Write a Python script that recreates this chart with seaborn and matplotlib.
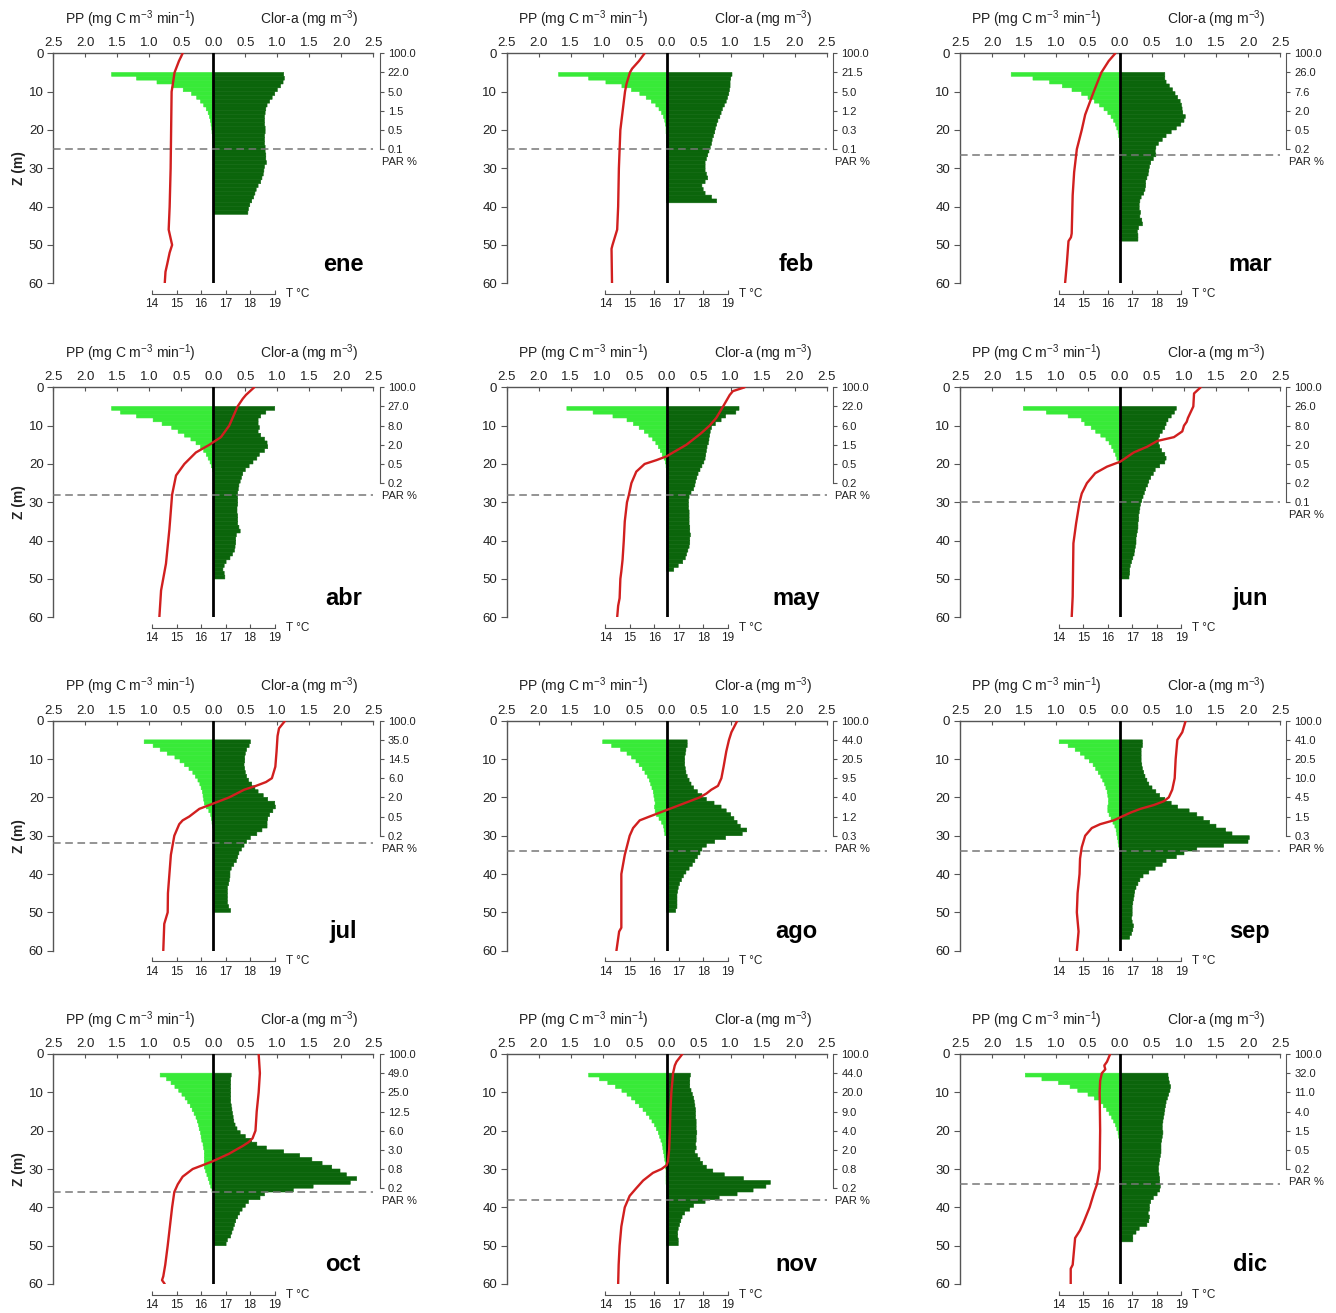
import numpy as np
import pandas as pd
import matplotlib
matplotlib.use("Agg")
import matplotlib.pyplot as plt
import seaborn as sns
from matplotlib.transforms import blended_transform_factory

sns.set_style("ticks")
plt.rcParams["font.family"] = ["Liberation Sans", "DejaVu Sans"]
plt.rcParams["mathtext.default"] = "regular"

# ---------------- data (bars: 1 m layers starting at 5 m) ----------------
BAR_TOP = 5

# ene
chl_ene = [1.10, 1.11, 1.09, 1.05, 1.00, 0.96, 0.92, 0.88, 0.84, 0.82, 0.81, 0.80, 0.80, 0.80, 0.81,
           0.81, 0.80, 0.80, 0.80, 0.81, 0.81, 0.82, 0.82, 0.83, 0.80, 0.79, 0.78, 0.76, 0.74, 0.70,
           0.67, 0.65, 0.63, 0.60, 0.57, 0.55, 0.54]
pp_ene = [1.59, 1.20, 0.88, 0.63, 0.47, 0.34, 0.26, 0.20, 0.15, 0.11, 0.08, 0.06, 0.045, 0.035,
          0.025, 0.02, 0.015, 0.01, 0.01, 0.005]
tz_ene = [0, 2, 5, 8, 10, 20, 30, 40, 46, 48, 50, 52, 55, 57, 60]
tt_ene = [15.25, 15.1, 14.92, 14.85, 14.8, 14.78, 14.76, 14.72, 14.68, 14.75, 14.82, 14.72, 14.62, 14.55, 14.52]
par_ene = [100.0, 22.0, 5.0, 1.5, 0.5, 0.1]
euph_ene = 25

# feb
chl_feb = [1.02, 1.00, 0.99, 0.99, 0.98, 0.97, 0.95, 0.93, 0.90, 0.87, 0.85, 0.83, 0.80, 0.78, 0.76,
           0.75, 0.73, 0.71, 0.70, 0.68, 0.66, 0.64, 0.62, 0.60, 0.60, 0.60, 0.62, 0.64, 0.60, 0.55,
           0.57, 0.60, 0.70, 0.78]
pp_feb = [1.69, 1.22, 0.95, 0.70, 0.55, 0.42, 0.32, 0.24, 0.17, 0.12, 0.08, 0.05, 0.03, 0.02, 0.01, 0.01]
tz_feb = [0, 2, 4, 5, 8, 10, 20, 30, 40, 46, 50, 51, 60]
tt_feb = [15.6, 15.37, 15.09, 15.0, 14.86, 14.8, 14.61, 14.55, 14.52, 14.48, 14.29, 14.25, 14.27]
par_feb = [100.0, 21.5, 5.0, 1.2, 0.3, 0.1]
euph_feb = 25

# mar
chl_mar = [0.70, 0.70, 0.72, 0.77, 0.82, 0.86, 0.90, 0.94, 0.96, 0.97, 0.98, 1.02, 1.00, 0.95, 0.88,
           0.80, 0.72, 0.66, 0.60, 0.56, 0.55, 0.56, 0.52, 0.48, 0.46, 0.45, 0.44, 0.42, 0.40, 0.40,
           0.39, 0.37, 0.33, 0.31, 0.30, 0.30, 0.32, 0.31, 0.34, 0.35, 0.29, 0.27, 0.28, 0.28]
pp_mar = [1.70, 1.36, 1.10, 0.90, 0.75, 0.60, 0.50, 0.40, 0.32, 0.25, 0.19, 0.14, 0.10, 0.07, 0.05,
          0.03, 0.02, 0.01]
tz_mar = [0, 2, 5, 10, 16, 20, 25, 31, 37, 47, 48, 49, 55, 60]
tt_mar = [16.31, 16.04, 15.74, 15.43, 15.08, 14.94, 14.74, 14.63, 14.57, 14.53, 14.5, 14.4, 14.33, 14.26]
par_mar = [100.0, 26.0, 7.6, 2.0, 0.5, 0.2]
euph_mar = 26.5

# abr
chl_abr = [0.96, 0.82, 0.74, 0.70, 0.70, 0.72, 0.70, 0.74, 0.80, 0.84, 0.85, 0.80, 0.72, 0.68, 0.62,
           0.56, 0.50, 0.46, 0.44, 0.42, 0.40, 0.39, 0.38, 0.38, 0.38, 0.38, 0.37, 0.37, 0.38, 0.38,
           0.38, 0.40, 0.42, 0.36, 0.35, 0.35, 0.34, 0.33, 0.30, 0.26, 0.20, 0.17, 0.15, 0.17, 0.18]
pp_abr = [1.59, 1.45, 1.20, 0.94, 0.80, 0.65, 0.55, 0.45, 0.35, 0.27, 0.20, 0.15, 0.11, 0.08, 0.05, 0.03, 0.01]
tz_abr = [0, 2, 3, 5, 10, 13, 15, 17, 20, 23, 28, 37, 46, 53, 60]
tt_abr = [18.17, 17.83, 17.7, 17.49, 17.15, 16.81, 16.34, 15.79, 15.32, 14.98, 14.82, 14.71, 14.57, 14.37, 14.3]
par_abr = [100.0, 27.0, 8.0, 2.0, 0.5, 0.2]
euph_abr = 28

# may
chl_may = [1.13, 1.08, 0.92, 0.85, 0.76, 0.70, 0.68, 0.67, 0.66, 0.65, 0.63, 0.62, 0.61, 0.60, 0.58,
           0.55, 0.52, 0.49, 0.47, 0.45, 0.44, 0.42, 0.38, 0.35, 0.34, 0.34, 0.34, 0.35, 0.35, 0.35,
           0.35, 0.36, 0.36, 0.37, 0.36, 0.36, 0.35, 0.33, 0.31, 0.29, 0.25, 0.18, 0.11]
pp_may = [1.56, 1.15, 0.84, 0.62, 0.52, 0.43, 0.35, 0.28, 0.22, 0.17, 0.13, 0.10, 0.07, 0.04, 0.02, 0.01]
tz_may = [0, 1, 2, 5, 8, 10, 12, 15, 17, 18, 19, 20, 22, 25, 28, 30, 35, 40, 45, 48, 50, 55, 57, 60]
tt_may = [19.68, 19.2, 19.07, 18.8, 18.52, 18.25, 17.9, 17.3, 16.76, 16.5, 16.08, 15.6, 15.26, 15.06,
          14.96, 14.88, 14.79, 14.75, 14.7, 14.65, 14.61, 14.58, 14.52, 14.48]
par_may = [100.0, 22.0, 6.0, 1.5, 0.5, 0.2]
euph_may = 28

# jun
chl_jun = [0.88, 0.85, 0.80, 0.75, 0.72, 0.70, 0.66, 0.62, 0.60, 0.60, 0.62, 0.65, 0.70, 0.72, 0.70,
           0.62, 0.55, 0.52, 0.48, 0.45, 0.43, 0.40, 0.38, 0.36, 0.34, 0.32, 0.31, 0.30, 0.29, 0.29,
           0.28, 0.28, 0.27, 0.26, 0.25, 0.25, 0.24, 0.23, 0.22, 0.20, 0.18, 0.16, 0.15, 0.15, 0.14]
pp_jun = [1.51, 1.15, 0.81, 0.60, 0.55, 0.45, 0.38, 0.30, 0.22, 0.17, 0.13, 0.10, 0.07, 0.05, 0.02]
tz_jun = [0, 1.6, 5, 8, 9, 10, 11.5, 13, 14, 15.5, 17, 19.4, 20.7, 22.4, 25, 27.7, 30, 35.5, 40.7, 54.6, 60]
tt_jun = [19.79, 19.52, 19.49, 19.27, 19.22, 19.11, 19.04, 18.7, 18.02, 17.61, 17.06, 16.51, 15.97,
          15.49, 15.15, 14.94, 14.85, 14.71, 14.6, 14.57, 14.53]
par_jun = [100.0, 26.0, 8.0, 2.0, 0.5, 0.2, 0.1]
euph_jun = 30

# jul
chl_jul = [0.58, 0.56, 0.52, 0.50, 0.49, 0.49, 0.48, 0.49, 0.50, 0.52, 0.55, 0.60, 0.65, 0.70, 0.78,
           0.85, 0.96, 0.97, 0.93, 0.88, 0.85, 0.84, 0.84, 0.76, 0.68, 0.58, 0.52, 0.48, 0.44, 0.40,
           0.38, 0.36, 0.32, 0.28, 0.26, 0.26, 0.25, 0.24, 0.22, 0.22, 0.22, 0.22, 0.22, 0.24, 0.27]
pp_jul = [1.08, 0.94, 0.83, 0.72, 0.60, 0.52, 0.45, 0.38, 0.32, 0.28, 0.24, 0.21, 0.19, 0.17, 0.16,
          0.15, 0.14, 0.11, 0.07, 0.04, 0.03, 0.02, 0.01]
tz_jul = [0, 2, 4, 8, 12, 15, 16, 17, 18, 20, 22, 23, 25, 26, 27, 30, 35, 40, 45, 50, 53, 60]
tt_jul = [19.43, 19.18, 19.12, 19.08, 19.03, 18.89, 18.65, 18.24, 17.76, 17.15, 16.34, 15.93, 15.52,
          15.25, 15.11, 14.91, 14.77, 14.71, 14.65, 14.64, 14.5, 14.46]
par_jul = [100.0, 35.0, 14.5, 6.0, 2.0, 0.5, 0.2]
euph_jul = 32

# ago
chl_ago = [0.32, 0.32, 0.30, 0.29, 0.28, 0.28, 0.28, 0.29, 0.30, 0.32, 0.35, 0.38, 0.42, 0.48, 0.55,
           0.62, 0.74, 0.85, 0.93, 1.00, 1.05, 1.10, 1.15, 1.25, 1.18, 0.92, 0.75, 0.62, 0.55, 0.52,
           0.48, 0.44, 0.40, 0.35, 0.30, 0.26, 0.23, 0.20, 0.18, 0.17, 0.16, 0.16, 0.16, 0.16, 0.14]
pp_ago = [1.00, 0.86, 0.72, 0.62, 0.55, 0.48, 0.43, 0.38, 0.34, 0.30, 0.27, 0.25, 0.23, 0.21, 0.20,
          0.19, 0.18, 0.19, 0.18, 0.16, 0.12, 0.08, 0.05, 0.04, 0.03]
tz_ago = [0, 3, 5, 8, 12, 15, 17, 18, 19, 20, 22, 23, 24, 25, 26, 28, 30, 35, 40, 50, 54, 55, 60]
tt_ago = [19.38, 19.14, 19.04, 18.93, 18.82, 18.73, 18.59, 18.32, 18.12, 17.85, 17.03, 16.62, 16.21,
          15.8, 15.4, 15.13, 14.99, 14.79, 14.65, 14.65, 14.65, 14.56, 14.45]
par_ago = [100.0, 44.0, 20.5, 9.5, 4.0, 1.2, 0.3]
euph_ago = 34

# sep
chl_sep = [0.35, 0.35, 0.33, 0.33, 0.33, 0.33, 0.34, 0.35, 0.37, 0.39, 0.42, 0.45, 0.50, 0.56, 0.62,
           0.70, 0.80, 0.90, 1.08, 1.20, 1.30, 1.40, 1.50, 1.65, 1.75, 2.02, 2.00, 1.62, 1.20, 1.00,
           0.88, 0.72, 0.66, 0.55, 0.45, 0.36, 0.31, 0.28, 0.25, 0.23, 0.22, 0.21, 0.20, 0.19, 0.19,
           0.19, 0.18, 0.19, 0.21, 0.20, 0.18, 0.15]
pp_sep = [0.95, 0.81, 0.70, 0.62, 0.55, 0.48, 0.42, 0.38, 0.34, 0.30, 0.27, 0.24, 0.22, 0.20, 0.19,
          0.18, 0.18, 0.19, 0.19, 0.17, 0.14, 0.11, 0.08, 0.06, 0.05, 0.04, 0.03, 0.02]
tz_sep = [0, 3, 5, 10, 15, 18, 20, 21, 22, 23, 24, 25, 26, 27, 28, 30, 33, 36, 40, 45, 50, 55, 60]
tt_sep = [19.18, 19.04, 18.84, 18.77, 18.73, 18.63, 18.49, 18.29, 17.88, 17.33, 16.92, 16.58, 16.24,
          15.69, 15.35, 15.08, 14.94, 14.87, 14.85, 14.77, 14.74, 14.81, 14.74]
par_sep = [100.0, 41.0, 20.5, 10.0, 4.5, 1.5, 0.3]
euph_sep = 34

# oct
chl_oct = [0.28, 0.27, 0.27, 0.27, 0.27, 0.27, 0.27, 0.27, 0.28, 0.29, 0.30, 0.31, 0.32, 0.34, 0.37,
           0.42, 0.50, 0.60, 0.68, 0.83, 1.10, 1.35, 1.54, 1.70, 1.85, 1.98, 2.08, 2.24, 2.14, 1.56,
           1.25, 0.80, 0.73, 0.55, 0.50, 0.45, 0.41, 0.38, 0.35, 0.33, 0.31, 0.29, 0.27, 0.22, 0.20]
pp_oct = [0.83, 0.73, 0.66, 0.60, 0.54, 0.49, 0.44, 0.40, 0.36, 0.33, 0.30, 0.27, 0.25, 0.23, 0.22,
          0.20, 0.19, 0.18, 0.16, 0.15, 0.14, 0.14, 0.14, 0.14, 0.14, 0.12, 0.10, 0.08, 0.06, 0.04, 0.02]
tz_oct = [0, 5, 10, 15, 20, 22, 23, 24, 25, 26, 27, 28, 29, 30, 32, 34, 36, 40, 45, 50, 55, 58, 59, 60]
tt_oct = [18.35, 18.4, 18.35, 18.27, 18.22, 18.1, 17.94, 17.7, 17.42, 17.15, 16.81, 16.47, 16.07,
          15.66, 15.25, 15.05, 14.91, 14.82, 14.73, 14.64, 14.54, 14.46, 14.41, 14.52]
par_oct = [100.0, 49.0, 25.0, 12.5, 6.0, 3.0, 0.8, 0.2]
euph_oct = 36

# nov
chl_nov = [0.37, 0.36, 0.36, 0.36, 0.38, 0.40, 0.42, 0.43, 0.44, 0.45, 0.45, 0.45, 0.46, 0.46, 0.46,
           0.47, 0.46, 0.46, 0.45, 0.46, 0.44, 0.48, 0.52, 0.56, 0.62, 0.72, 0.90, 1.20, 1.62, 1.55,
           1.35, 1.10, 0.82, 0.60, 0.42, 0.36, 0.28, 0.24, 0.22, 0.20, 0.18, 0.17, 0.17, 0.18, 0.18]
pp_nov = [1.22, 1.05, 0.92, 0.80, 0.70, 0.62, 0.55, 0.49, 0.43, 0.37, 0.32, 0.27, 0.23, 0.19, 0.16,
          0.13, 0.11, 0.09, 0.07, 0.06, 0.05, 0.04, 0.03, 0.02, 0.02, 0.01, 0.01, 0.01, 0.01]
tz_nov = [0, 2, 3, 5, 10, 15, 20, 25, 28, 29, 30, 31, 33, 35, 37, 40, 45, 50, 55, 60]
tt_nov = [17.14, 16.9, 16.83, 16.76, 16.69, 16.65, 16.63, 16.6, 16.55, 16.5, 16.29, 15.94, 15.54,
          15.26, 14.99, 14.79, 14.65, 14.58, 14.54, 14.52]
par_nov = [100.0, 44.0, 20.0, 9.0, 4.0, 2.0, 0.8, 0.2]
euph_nov = 38

# dic
chl_dic = [0.75, 0.76, 0.77, 0.79, 0.78, 0.76, 0.74, 0.72, 0.71, 0.70, 0.69, 0.68, 0.67, 0.66, 0.66,
           0.67, 0.66, 0.65, 0.64, 0.64, 0.64, 0.63, 0.62, 0.61, 0.60, 0.60, 0.61, 0.62, 0.62, 0.63,
           0.62, 0.58, 0.52, 0.48, 0.46, 0.46, 0.44, 0.46, 0.45, 0.42, 0.30, 0.25, 0.20, 0.20]
pp_dic = [1.48, 1.22, 0.96, 0.78, 0.66, 0.50, 0.40, 0.32, 0.26, 0.21, 0.17, 0.13, 0.10, 0.07, 0.05,
          0.03, 0.02, 0.01]
tz_dic = [0, 2, 3, 4, 5, 7, 10, 20, 30, 34, 36, 40, 44, 46, 48, 55, 56, 60]
tt_dic = [16.1, 15.97, 15.86, 15.9, 15.76, 15.69, 15.67, 15.69, 15.67, 15.56, 15.45, 15.26, 15.01,
          14.87, 14.67, 14.57, 14.49, 14.49]
par_dic = [100.0, 32.0, 11.0, 4.0, 1.5, 0.5, 0.2]
euph_dic = 34

months = [
    ("ene", chl_ene, pp_ene, tz_ene, tt_ene, par_ene, euph_ene),
    ("feb", chl_feb, pp_feb, tz_feb, tt_feb, par_feb, euph_feb),
    ("mar", chl_mar, pp_mar, tz_mar, tt_mar, par_mar, euph_mar),
    ("abr", chl_abr, pp_abr, tz_abr, tt_abr, par_abr, euph_abr),
    ("may", chl_may, pp_may, tz_may, tt_may, par_may, euph_may),
    ("jun", chl_jun, pp_jun, tz_jun, tt_jun, par_jun, euph_jun),
    ("jul", chl_jul, pp_jul, tz_jul, tt_jul, par_jul, euph_jul),
    ("ago", chl_ago, pp_ago, tz_ago, tt_ago, par_ago, euph_ago),
    ("sep", chl_sep, pp_sep, tz_sep, tt_sep, par_sep, euph_sep),
    ("oct", chl_oct, pp_oct, tz_oct, tt_oct, par_oct, euph_oct),
    ("nov", chl_nov, pp_nov, tz_nov, tt_nov, par_nov, euph_nov),
    ("dic", chl_dic, pp_dic, tz_dic, tt_dic, par_dic, euph_dic),
]

# ---------------- styling ----------------
LIGHT = "#38ea38"
DARK = "#0b650b"
RED = "#d11f1f"
SPINE = "#555555"
TXT = "#222222"
T_CENTER, T_PER_UNIT = 16.5, 2.61
T_LO, T_HI = T_CENTER - 2.5 * T_PER_UNIT, T_CENTER + 2.5 * T_PER_UNIT

W, H = 320 / 1336, 230 / 1313
lefts = [53.3 / 1336, 506.7 / 1336, 960 / 1336]
bottoms = [1 - 283.3 / 1313, 1 - 617.3 / 1313, 1 - 950.7 / 1313, 1 - 1284 / 1313]

fig = plt.figure(figsize=(13.36, 13.13), dpi=100)
fig.patch.set_facecolor("white")

for i, (name, chl, pp, tz, tt, par, euph) in enumerate(months):
    r, c = divmod(i, 3)
    ax = fig.add_axes([lefts[c], bottoms[r], W, H])
    ax2 = ax.twiny()
    ax3 = ax.twinx()

    df_chl = pd.DataFrame({"z": BAR_TOP + np.arange(len(chl)) + 0.5, "v": chl})
    df_pp = pd.DataFrame({"z": BAR_TOP + np.arange(len(pp)) + 0.5, "v": -np.asarray(pp)})
    sns.barplot(data=df_chl, x="v", y="z", orient="y", native_scale=True, width=1.0,
                color=DARK, saturation=1, errorbar=None, linewidth=0.4, edgecolor=DARK, ax=ax)
    sns.barplot(data=df_pp, x="v", y="z", orient="y", native_scale=True, width=1.0,
                color=LIGHT, saturation=1, errorbar=None, linewidth=0.4, edgecolor=LIGHT, ax=ax)
    for p in ax.patches:
        p.set_snap(False)

    ax.set_xlim(-2.5, 2.5)
    ax.set_ylim(60, 0)
    ax.axvline(0, color="black", lw=2.0, zorder=5)
    ax.axhline(euph, color="#777777", lw=1.1, ls=(0, (5, 3)), zorder=6)
    ax.set_xlabel("")
    ax.set_ylabel("")

    # main axes: top x axis (PP / Chl), left depth axis
    ax.xaxis.tick_top()
    xt = np.arange(-2.5, 2.51, 0.5)
    ax.set_xticks(xt)
    ax.set_xticklabels([f"{abs(v):.1f}" for v in xt])
    ax.set_yticks(np.arange(0, 61, 10))
    ax.set_yticklabels([str(v) for v in range(0, 61, 10)])
    ax.tick_params(axis="x", top=True, bottom=False, direction="in", length=3, pad=3,
                   labelsize=9.5, color=SPINE, labelcolor=TXT)
    ax.tick_params(axis="y", left=True, right=False, direction="out", length=4, pad=3,
                   labelsize=9.5, color=SPINE, labelcolor=TXT)
    for s in ("right", "bottom"):
        ax.spines[s].set_visible(False)
    for s in ("top", "left"):
        ax.spines[s].set_color(SPINE)
        ax.spines[s].set_linewidth(1.0)
    ax.spines["left"].set_bounds(0, 60)

    ax.text(0.24, 1.148, r"PP (mg C m$^{-3}$ min$^{-1}$)", transform=ax.transAxes,
            ha="center", va="center", fontsize=10, color=TXT)
    ax.text(0.80, 1.148, r"Clor-a (mg m$^{-3}$)", transform=ax.transAxes,
            ha="center", va="center", fontsize=10, color=TXT)
    ax.text(2.03, 55, name, ha="center", va="center", fontsize=17, fontweight="bold", color="black")
    if c == 0:
        ax.text(-0.107, 0.5, "Z (m)", transform=ax.transAxes, rotation=90, ha="center",
                va="center", fontsize=10, fontweight="bold", color=TXT)

    # temperature axis
    sns.lineplot(x=tt, y=tz, sort=False, estimator=None, orient="y", color=RED, lw=1.7, ax=ax2)
    ax2.set_xlim(T_LO, T_HI)
    ax2.set_ylim(60, 0)
    ax2.set_xlabel("")
    ax2.set_ylabel("")
    ax2.xaxis.set_ticks_position("bottom")
    ax2.set_xticks(np.arange(14, 20))
    ax2.tick_params(axis="x", direction="in", length=3, pad=3, labelsize=8.5,
                    color=SPINE, labelcolor=TXT)
    for s in ("top", "left", "right"):
        ax2.spines[s].set_visible(False)
    ax2.spines["bottom"].set_position(("outward", 7.7))
    ax2.spines["bottom"].set_bounds(14, 19)
    ax2.spines["bottom"].set_color(SPINE)
    tr = blended_transform_factory(ax2.transData, ax2.transAxes)
    ax2.text(19.45, -0.0465, "T °C", transform=tr, ha="left", va="center", fontsize=8.5, color=TXT)

    # PAR axis
    ax3.set_ylim(60, 0)
    pt = np.arange(len(par)) * 5
    ax3.set_yticks(pt)
    ax3.set_yticklabels([f"{v:.1f}" for v in par])
    ax3.tick_params(axis="y", right=True, left=False, direction="out", length=3, pad=3,
                    labelsize=8, color=SPINE, labelcolor=TXT)
    for s in ("top", "left", "bottom"):
        ax3.spines[s].set_visible(False)
    ax3.spines["right"].set_position(("outward", 4.5))
    ax3.spines["right"].set_bounds(0, pt[-1])
    ax3.spines["right"].set_color(SPINE)
    tr3 = blended_transform_factory(ax3.transAxes, ax3.transData)
    ax3.text(1.027, pt[-1] + 3.4, "PAR %", transform=tr3, ha="left", va="center",
             fontsize=8, color=TXT)

fig.savefig("out.png", dpi=100, facecolor="white")
